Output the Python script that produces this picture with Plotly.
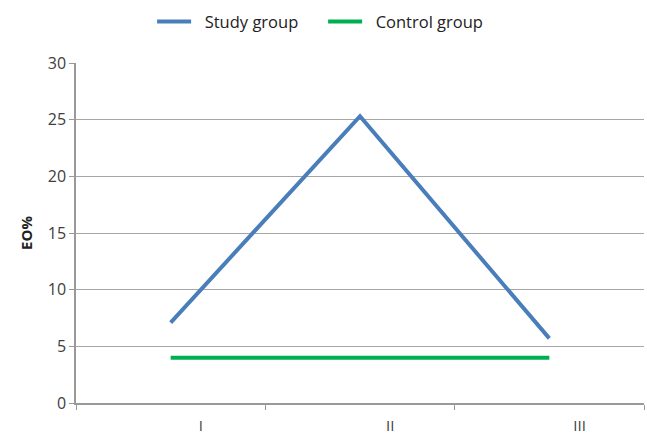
import plotly.graph_objects as go

categories = ["I", "II", "III"]
study_group = [7.1, 25.3, 5.7]
control_group = [4.0, 4.0, 4.0]
y_ticks = [0, 5, 10, 15, 20, 25, 30]

xpos = [i + 0.5 for i in range(len(categories))]
label_pos = [i + 0.66 for i in range(len(categories))]

fig = go.Figure()
fig.add_trace(go.Scatter(x=xpos, y=study_group, mode="lines", name="\u00a0\u00a0Study group",
                         line=dict(color="#4a7ebb", width=4)))
fig.add_trace(go.Scatter(x=xpos, y=control_group, mode="lines", name="\u00a0\u00a0Control group",
                         line=dict(color="#00b050", width=4)))

fig.update_layout(
    width=647, height=434,
    margin=dict(l=76, r=3, t=63, b=31, autoexpand=False),
    paper_bgcolor="white", plot_bgcolor="white",
    font=dict(family="Open Sans", size=15, color="#404040"),
    showlegend=True,
    legend=dict(orientation="h", x=0.134, xanchor="left", y=0.95, yanchor="middle",
                yref="container", font=dict(size=16.5, color="#222"),
                itemwidth=34, entrywidth=122, traceorder="normal"),
    xaxis=dict(range=[0, 3], tickvals=label_pos, ticktext=categories, ticks="",
               showgrid=False, zeroline=False, showline=True, linecolor="#999", linewidth=1.5,
               automargin=False, ticklabelstandoff=8,
               minor=dict(tickvals=[0, 1, 2, 3], ticks="outside", ticklen=5, tickcolor="#999",
                          showgrid=False),
               tickfont=dict(size=15, color="#404040")),
    yaxis=dict(range=[0, 30], tickvals=y_ticks, ticks="outside", ticklen=5, tickcolor="#999",
               showgrid=True, gridcolor="#a6a6a6", gridwidth=1, zeroline=False,
               showline=True, linecolor="#999", linewidth=1.5, automargin=False,
               title=dict(text="<b>EO%</b>", font=dict(size=15, color="#222"), standoff=12),
               tickfont=dict(size=16, color="#404040")),
)
fig.write_html("out.html", config={"displayModeBar": False},
               post_script="document.body.style.margin='0';document.body.style.overflow='hidden';")
